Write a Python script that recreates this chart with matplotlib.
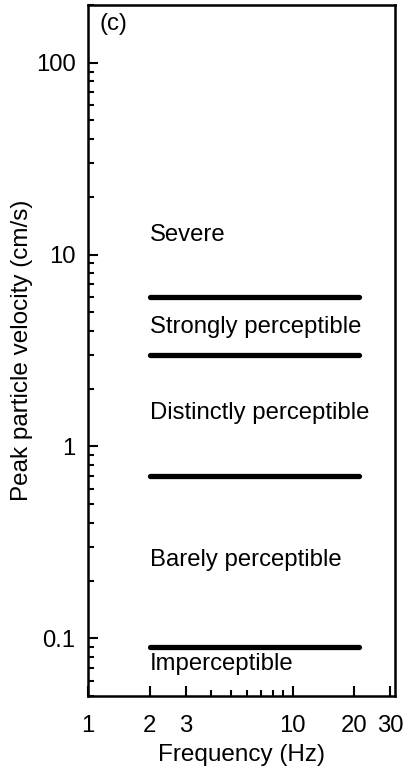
import matplotlib
matplotlib.use("Agg")
import matplotlib.pyplot as plt
from matplotlib.ticker import FixedLocator, FixedFormatter, NullFormatter

plt.rcParams['font.family'] = ['Liberation Sans', 'DejaVu Sans']

# Data
thresholds = [6, 3, 0.7, 0.09]          # cm/s boundary lines
freq_range = [2, 21]                     # Hz
labels = ["Severe", "Strongly perceptible", "Distinctly perceptible",
          "Barely perceptible", "Imperceptible"]
label_y = [12.7, 4.17, 1.5, 0.255, 0.073]
label_x = 2.0
x_major = [1, 2, 3, 10, 20, 30]
x_major_labels = ["1", "2", "3", "10", "20", "30"]
x_minor = [4, 5, 6, 7, 8, 9]
y_major = [0.1, 1, 10, 100]
y_major_labels = ["0.1", "1", "10", "100"]

fig = plt.figure(figsize=(4.13, 7.67), dpi=100)
ax = fig.add_axes([88/413, 1-696/767, (395-88)/413, (696-5)/767])
ax.set_xscale('log')
ax.set_yscale('log')
ax.set_xlim(1, 31.6)
ax.set_ylim(0.05, 200)

for t in thresholds:
    ax.plot(freq_range, [t, t], color='black', lw=3.8, solid_capstyle='round')

for lab, yv in zip(labels, label_y):
    ax.text(label_x, yv, lab, fontsize=17.2, va='center', ha='left')

ax.text(0.036, 0.972, "(c)", transform=ax.transAxes, fontsize=17.2, va='center', ha='left')

ax.xaxis.set_major_locator(FixedLocator(x_major))
ax.xaxis.set_major_formatter(FixedFormatter(x_major_labels))
ax.xaxis.set_minor_locator(FixedLocator(x_minor))
ax.xaxis.set_minor_formatter(NullFormatter())
ax.yaxis.set_major_locator(FixedLocator(y_major))
ax.yaxis.set_major_formatter(FixedFormatter(y_major_labels))
ax.yaxis.set_minor_locator(FixedLocator([m * 10**e for e in (-2, -1, 0, 1, 2) for m in range(2, 10)]))
ax.yaxis.set_minor_formatter(NullFormatter())

ax.tick_params(which='major', direction='in', length=7.2, width=1.5, labelsize=17.2)
ax.tick_params(axis='y', which='major', pad=9)
ax.tick_params(axis='x', which='major', pad=14)
ax.tick_params(which='minor', direction='in', length=4.5, width=1.5)
for s in ax.spines.values():
    s.set_linewidth(1.8)

ax.set_xlabel("Frequency (Hz)", fontsize=17.5, labelpad=5)
ax.set_ylabel("Peak particle velocity (cm/s)", fontsize=17.5, labelpad=2)

fig.savefig("out.png", dpi=100)
